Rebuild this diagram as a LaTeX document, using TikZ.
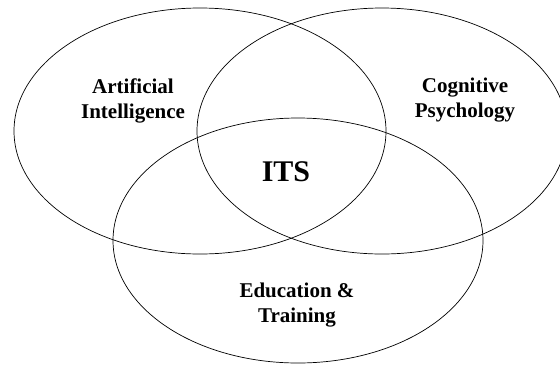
\documentclass[tikz,border=0pt]{standalone}
\usepackage{fontspec}
\setmainfont{Liberation Serif}
\usetikzlibrary{positioning}
\tikzset{area/.style={line width=.7pt,black},
  lab/.style={font=\bfseries\fontsize{21}{25}\selectfont,align=center}}

\begin{document}
\begin{tikzpicture}[x=1pt,y=-1pt]
\useasboundingbox (0,0) rectangle (560,365);
\coordinate (AI) at (200,131);
\coordinate (CP) at (382,131);
\coordinate (ET) at (298,240.5);
\draw[area] (AI) ellipse [x radius=186pt,y radius=123pt];
\draw[area] (CP) ellipse [x radius=185pt,y radius=123pt];
\draw[area] (ET) ellipse [x radius=185pt,y radius=122.5pt];
\node[lab] (ai) at (133,101) {Artificial\\Intelligence};
\node[lab] (cp) at (465,100) {Cognitive\\Psychology};
\node[lab,font=\bfseries\fontsize{30}{36}\selectfont] (its) at (286,172) {ITS};
\node[lab] (et) at (297,305) {Education \&\\Training};
\end{tikzpicture}
\end{document}
